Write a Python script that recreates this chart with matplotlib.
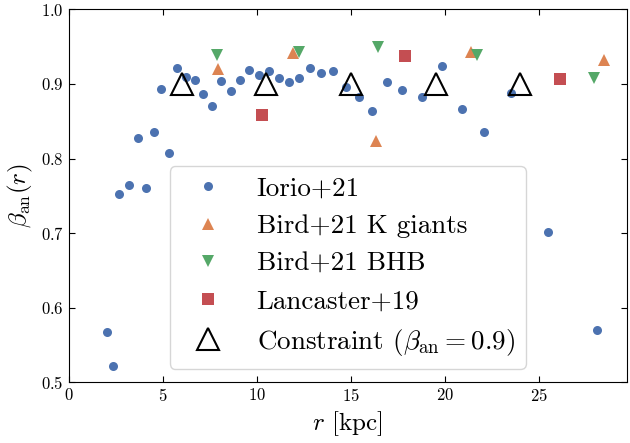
import matplotlib
matplotlib.use("Agg")
import matplotlib.pyplot as plt

plt.rcParams['font.family'] = 'serif'
plt.rcParams['font.serif'] = ['cmr10', 'DejaVu Serif']
plt.rcParams['mathtext.fontset'] = 'cm'
plt.rcParams['axes.formatter.use_mathtext'] = True

# Iorio+21
iorio_r = [2.01, 2.35, 2.70, 3.21, 3.67, 4.10, 4.52, 4.91, 5.35, 5.77,
           6.24, 6.70, 7.15, 7.63, 8.11, 8.64, 9.12, 9.60, 10.11, 10.63,
           11.16, 11.69, 12.25, 12.82, 13.40, 14.02, 14.71, 15.42, 16.11, 16.91,
           17.70, 18.75, 19.82, 20.90, 22.07, 23.50, 25.44, 28.04]
iorio_beta = [0.568, 0.522, 0.753, 0.765, 0.827, 0.760, 0.836, 0.893, 0.808, 0.921,
              0.909, 0.905, 0.886, 0.870, 0.904, 0.891, 0.905, 0.919, 0.912, 0.917,
              0.908, 0.903, 0.908, 0.921, 0.914, 0.917, 0.896, 0.882, 0.864, 0.903,
              0.892, 0.883, 0.924, 0.867, 0.835, 0.888, 0.702, 0.570]

# Bird+21 K giants
kg_r = [7.95, 11.90, 16.32, 21.36, 28.46]
kg_beta = [0.920, 0.942, 0.823, 0.943, 0.932]

# Bird+21 BHB
bhb_r = [7.88, 12.22, 16.43, 21.67, 27.88]
bhb_beta = [0.939, 0.943, 0.950, 0.939, 0.908]

# Lancaster+19
lan_r = [10.27, 17.88, 26.10]
lan_beta = [0.858, 0.938, 0.907]

# constraint points
con_r = [6.0, 10.5, 15.0, 19.5, 24.0]
con_beta = [0.9, 0.9, 0.9, 0.9, 0.9]

fig, ax = plt.subplots(figsize=(6.3, 4.43), dpi=100)
fig.subplots_adjust(left=0.109, right=0.995, top=0.979, bottom=0.137)

ax.plot(iorio_r, iorio_beta, 'o', color='#4C72B0', ms=6.5, mew=0, label='Iorio+21')
ax.plot(kg_r, kg_beta, '^', color='#DD8452', ms=8.5, mew=0, label='Bird+21 K giants')
ax.plot(bhb_r, bhb_beta, 'v', color='#55A868', ms=8.5, mew=0, label='Bird+21 BHB')
ax.plot(lan_r, lan_beta, 's', color='#C44E52', ms=8.5, mew=0, label='Lancaster+19')
ax.plot(con_r, con_beta, '^', mfc='none', mec='k', ms=16.5, mew=1.5,
        label=r'Constraint ($\beta_{\rm an}=0.9$)')

ax.set_xlim(0, 29.65)
ax.set_ylim(0.5, 1.0)
ax.set_xticks([0, 5, 10, 15, 20, 25])
ax.set_yticks([0.5, 0.6, 0.7, 0.8, 0.9, 1.0])
ax.tick_params(direction='in', top=True, right=True, length=4, labelsize=12)

ax.set_xlabel(r'$r$ [kpc]', fontsize=18)
ax.set_ylabel(r'$\beta_{\rm an}(r)$', fontsize=18)

ax.legend(loc='lower center', fontsize=19.5, handletextpad=0.8)

fig.savefig('out.png', dpi=100)
